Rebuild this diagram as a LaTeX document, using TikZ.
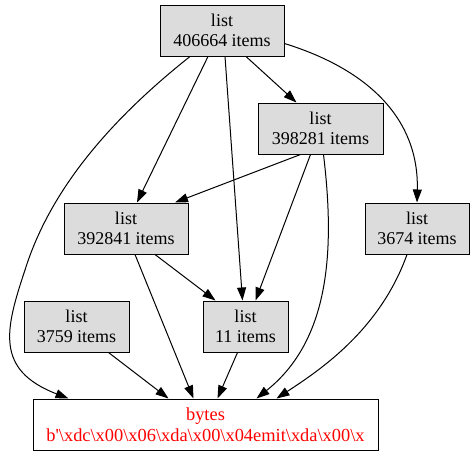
\documentclass[tikz,border=0pt]{standalone}
\usepackage{fontspec}
\setmainfont{Liberation Serif}
\newfontfamily\bytesfont{Liberation Serif}[Ligatures=TeXOff]
\usetikzlibrary{arrows.meta}
\definecolor{boxgray}{HTML}{DCDCDC}
\tikzset{
  listbox/.style={draw=black, fill=boxgray, line width=1pt, minimum height=51pt, inner sep=0pt, align=center, font=\fontsize{18}{20.5}\selectfont},
  bytesbox/.style={draw=black, fill=white, line width=1pt, minimum height=51pt, minimum width=345pt, inner sep=0pt, align=center, text=red, font=\bytesfont\fontsize{18.4}{20.5}\selectfont},
  edge/.style={draw=black, line width=1pt, -{Triangle[length=13pt,width=9pt]}}
}
\begin{document}
\begin{tikzpicture}[x=1pt,y=-1pt]
\useasboundingbox (0,0) rectangle (474,456);
\node[listbox, minimum width=124pt] (A) at (222,30.5) {list\\406664 items};
\node[listbox, minimum width=125pt] (B) at (320.5,128.5) {list\\398281 items};
\node[listbox, minimum width=124pt] (C) at (126,228.5) {list\\392841 items};
\node[listbox, minimum width=104pt] (D) at (417,228.5) {list\\3674 items};
\node[listbox, minimum width=105pt] (E) at (76.5,326.5) {list\\3759 items};
\node[listbox, minimum width=85pt] (F) at (245.5,326.5) {list\\11 items};
\node[bytesbox] (G) at (205.5,424.5) {bytes\\b'\textbackslash xdc\textbackslash x00\textbackslash x06\textbackslash xda\textbackslash x00\textbackslash x04emit\textbackslash xda\textbackslash x00\textbackslash x};
% edges
\draw[edge] ([xshift=-32pt]A.south) .. controls (110,120) and (50,190) .. (25,270) .. controls (5,330) and (-5,370) .. ([xshift=-137pt]G.north);
\draw[edge] ([xshift=-14pt]A.south) -- ([xshift=11pt]C.north);
\draw[edge] ([xshift=3pt]A.south) -- ([xshift=-3pt]F.north);
\draw[edge] ([xshift=24pt]A.south) -- ([xshift=-24pt]B.north);
\draw[edge] ([yshift=-13pt]A.east) .. controls (370,70) and (419,120) .. (D.north);
\draw[edge] ([xshift=-20pt]B.south) -- ([xshift=49pt]C.north);
\draw[edge] ([xshift=-10pt]B.south) -- ([xshift=10pt]F.north);
\draw[edge] ([xshift=3pt]B.south) .. controls (335,250) and (330,340) .. ([xshift=51pt]G.north);
\draw[edge] ([xshift=29pt]C.south) -- ([xshift=-30pt]F.north);
\draw[edge] ([xshift=9pt]C.south) -- ([xshift=-12pt]G.north);
\draw[edge] ([xshift=32pt]E.south) -- ([xshift=-37pt]G.north);
\draw[edge] ([xshift=-8pt]F.south) -- ([xshift=12pt]G.north);
\draw[edge] ([xshift=-10pt]D.south) .. controls (380,330) and (320,370) .. ([xshift=71pt]G.north);
\end{tikzpicture}
\end{document}
